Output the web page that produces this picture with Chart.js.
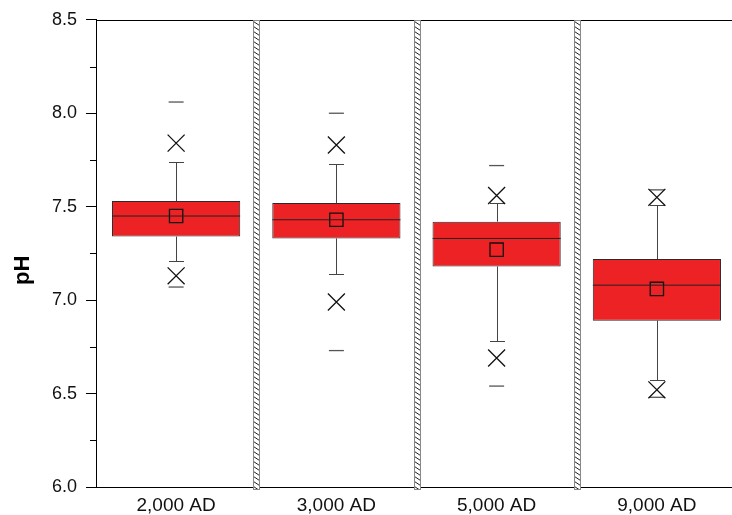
<!DOCTYPE html>
<html>
<head>
<meta charset="utf-8">
<script src="https://cdn.jsdelivr.net/npm/chart.js@4/dist/chart.umd.min.js"></script>
<style>
  html, body { margin: 0; padding: 0; background: #fff; overflow: hidden; }
  #wrap { width: 732px; height: 515px; overflow: hidden; }
  canvas { display: block; }
</style>
</head>
<body>
<div id="wrap"><canvas id="c" width="737" height="515"></canvas></div>
<script>
// pH distribution per period
const categories = ['2,000 AD', '3,000 AD', '5,000 AD', '9,000 AD'];
const q1          = [7.34, 7.33, 7.18, 6.89];
const q3          = [7.53, 7.52, 7.42, 7.22];
const median      = [7.45, 7.43, 7.33, 7.08];
const mean        = [7.45, 7.43, 7.27, 7.06];
const whiskerLow  = [7.21, 7.14, 6.78, 6.57];
const whiskerHigh = [7.74, 7.73, 7.52, 7.51];
const p1          = [7.13, 6.99, 6.69, 6.52];
const p99         = [7.84, 7.83, 7.56, 7.55];
const minVals     = [7.07, 6.73, 6.54, 6.48];
const maxVals     = [8.06, 8.00, 7.72, 7.59];
const yTicks      = [6.0, 6.5, 7.0, 7.5, 8.0, 8.5];
const yMinorTicks = [6.25, 6.75, 7.25, 7.75, 8.25];
const yTitle      = 'pH';

const FONT = '"Liberation Sans", Arial, Helvetica, sans-serif';

// whiskers, hatched dividers, frame top, minor ticks and axis title
const boxExtras = {
  id: 'boxExtras',
  beforeDatasetsDraw(chart) {
    const { ctx, chartArea: a, scales: { x, y } } = chart;
    ctx.save();
    // top frame line
    ctx.strokeStyle = '#000';
    ctx.lineWidth = 1;
    ctx.beginPath();
    ctx.moveTo(a.left, Math.round(a.top) + 0.5);
    ctx.lineTo(a.right, Math.round(a.top) + 0.5);
    ctx.stroke();

    // hatched dividers between periods
    for (let i = 1; i < categories.length; i++) {
      const bx = (x.getPixelForValue(i - 1) + x.getPixelForValue(i)) / 2;
      const w = 6;
      const x0 = Math.round(bx - w / 2) + 0.5;
      const top = Math.round(a.top) + 0.5;
      const bot = Math.round(a.bottom) + 2.5;
      ctx.fillStyle = '#fff';
      ctx.fillRect(x0, top, w, bot - top);
      ctx.save();
      ctx.beginPath();
      ctx.rect(x0, top, w, bot - top);
      ctx.clip();
      ctx.strokeStyle = '#222';
      ctx.lineWidth = 1;
      for (let yy = top - 4; yy < bot; yy += 5) {
        ctx.beginPath();
        ctx.moveTo(x0, yy);
        ctx.lineTo(x0 + w, yy + 4);
        ctx.stroke();
      }
      ctx.restore();
      ctx.strokeStyle = '#888';
      ctx.lineWidth = 1;
      ctx.strokeRect(x0, top, w, bot - top);
    }

    // whiskers with caps
    ctx.strokeStyle = '#444';
    ctx.lineWidth = 1;
    categories.forEach((c, i) => {
      const cx = Math.round(x.getPixelForValue(i)) + 0.5;
      const segs = [[q3[i], whiskerHigh[i]], [q1[i], whiskerLow[i]]];
      segs.forEach(([from, to]) => {
        const y0 = y.getPixelForValue(from);
        const y1 = Math.round(y.getPixelForValue(to)) + 0.5;
        ctx.beginPath();
        ctx.moveTo(cx, y0);
        ctx.lineTo(cx, y1);
        ctx.moveTo(cx - 7.5, y1);
        ctx.lineTo(cx + 7.5, y1);
        ctx.stroke();
      });
    });
    ctx.restore();
  },
  afterDraw(chart) {
    const { ctx, chartArea: a, scales: { y } } = chart;
    ctx.save();
    ctx.strokeStyle = '#000';
    ctx.lineWidth = 1;
    yMinorTicks.forEach(v => {
      const py = Math.round(y.getPixelForValue(v)) + 0.5;
      ctx.beginPath();
      ctx.moveTo(a.left - 6, py);
      ctx.lineTo(a.left, py);
      ctx.stroke();
    });
    // vertical axis title, sitting a little below the plot's midline
    ctx.translate(23, y.getPixelForValue(7.16));
    ctx.rotate(-Math.PI / 2);
    ctx.fillStyle = '#000';
    ctx.font = 'bold 22px ' + FONT;
    ctx.textAlign = 'center';
    ctx.textBaseline = 'middle';
    ctx.fillText(yTitle, 0, 0);
    ctx.restore();
  }
};

const markerSet = (data, style, radius, color, width) => ({
  type: 'line',
  data,
  showLine: false,
  clip: false,
  pointStyle: style,
  pointRadius: radius,
  pointHoverRadius: radius,
  pointBackgroundColor: 'rgba(0,0,0,0)',
  pointBorderColor: color,
  pointBorderWidth: width,
  borderColor: color,
  backgroundColor: 'rgba(0,0,0,0)'
});

new Chart(document.getElementById('c'), {
  data: {
    labels: categories,
    datasets: [
      markerSet(median, 'line', 64, '#222', 1),
      markerSet(mean, 'rect', 9.4, '#111', 1.3),
      markerSet(p1, 'crossRot', 12, '#111', 1.3),
      markerSet(p99, 'crossRot', 12, '#111', 1.3),
      markerSet(minVals, 'line', 7.5, '#555', 1.3),
      markerSet(maxVals, 'line', 7.5, '#555', 1.3),
      {
        type: 'bar',
        data: q1.map((v, i) => [v, q3[i]]),
        backgroundColor: '#ed2224',
        borderColor: '#2a2a2a',
        borderWidth: 1,
        borderSkipped: false,
        barPercentage: 0.8,
        categoryPercentage: 1
      }
    ]
  },
  options: {
    responsive: false,
    animation: false,
    events: [],
    layout: { autoPadding: false, padding: { top: 18, left: 0, right: 0, bottom: 0 } },
    plugins: { legend: { display: false }, tooltip: { enabled: false } },
    scales: {
      x: {
        offset: true,
        grid: { display: false, drawTicks: false },
        border: { display: true, color: '#000', width: 1 },
        ticks: { font: { family: FONT, size: 19 }, color: '#111', padding: 7 },
        afterFit(s) { s.height = 28; }
      },
      y: {
        min: 6,
        max: 8.5,
        afterBuildTicks(s) { s.ticks = yTicks.map(v => ({ value: v })); },
        ticks: {
          callback: v => Number(v).toFixed(1),
          font: { family: FONT, size: 18 },
          color: '#111',
          padding: 9
        },
        grid: { drawOnChartArea: false, tickLength: 10, color: '#000' },
        border: { display: true, color: '#000', width: 1 },
        afterFit(s) { s.width = 96; }
      }
    }
  },
  plugins: [boxExtras]
});
</script>
</body>
</html>
